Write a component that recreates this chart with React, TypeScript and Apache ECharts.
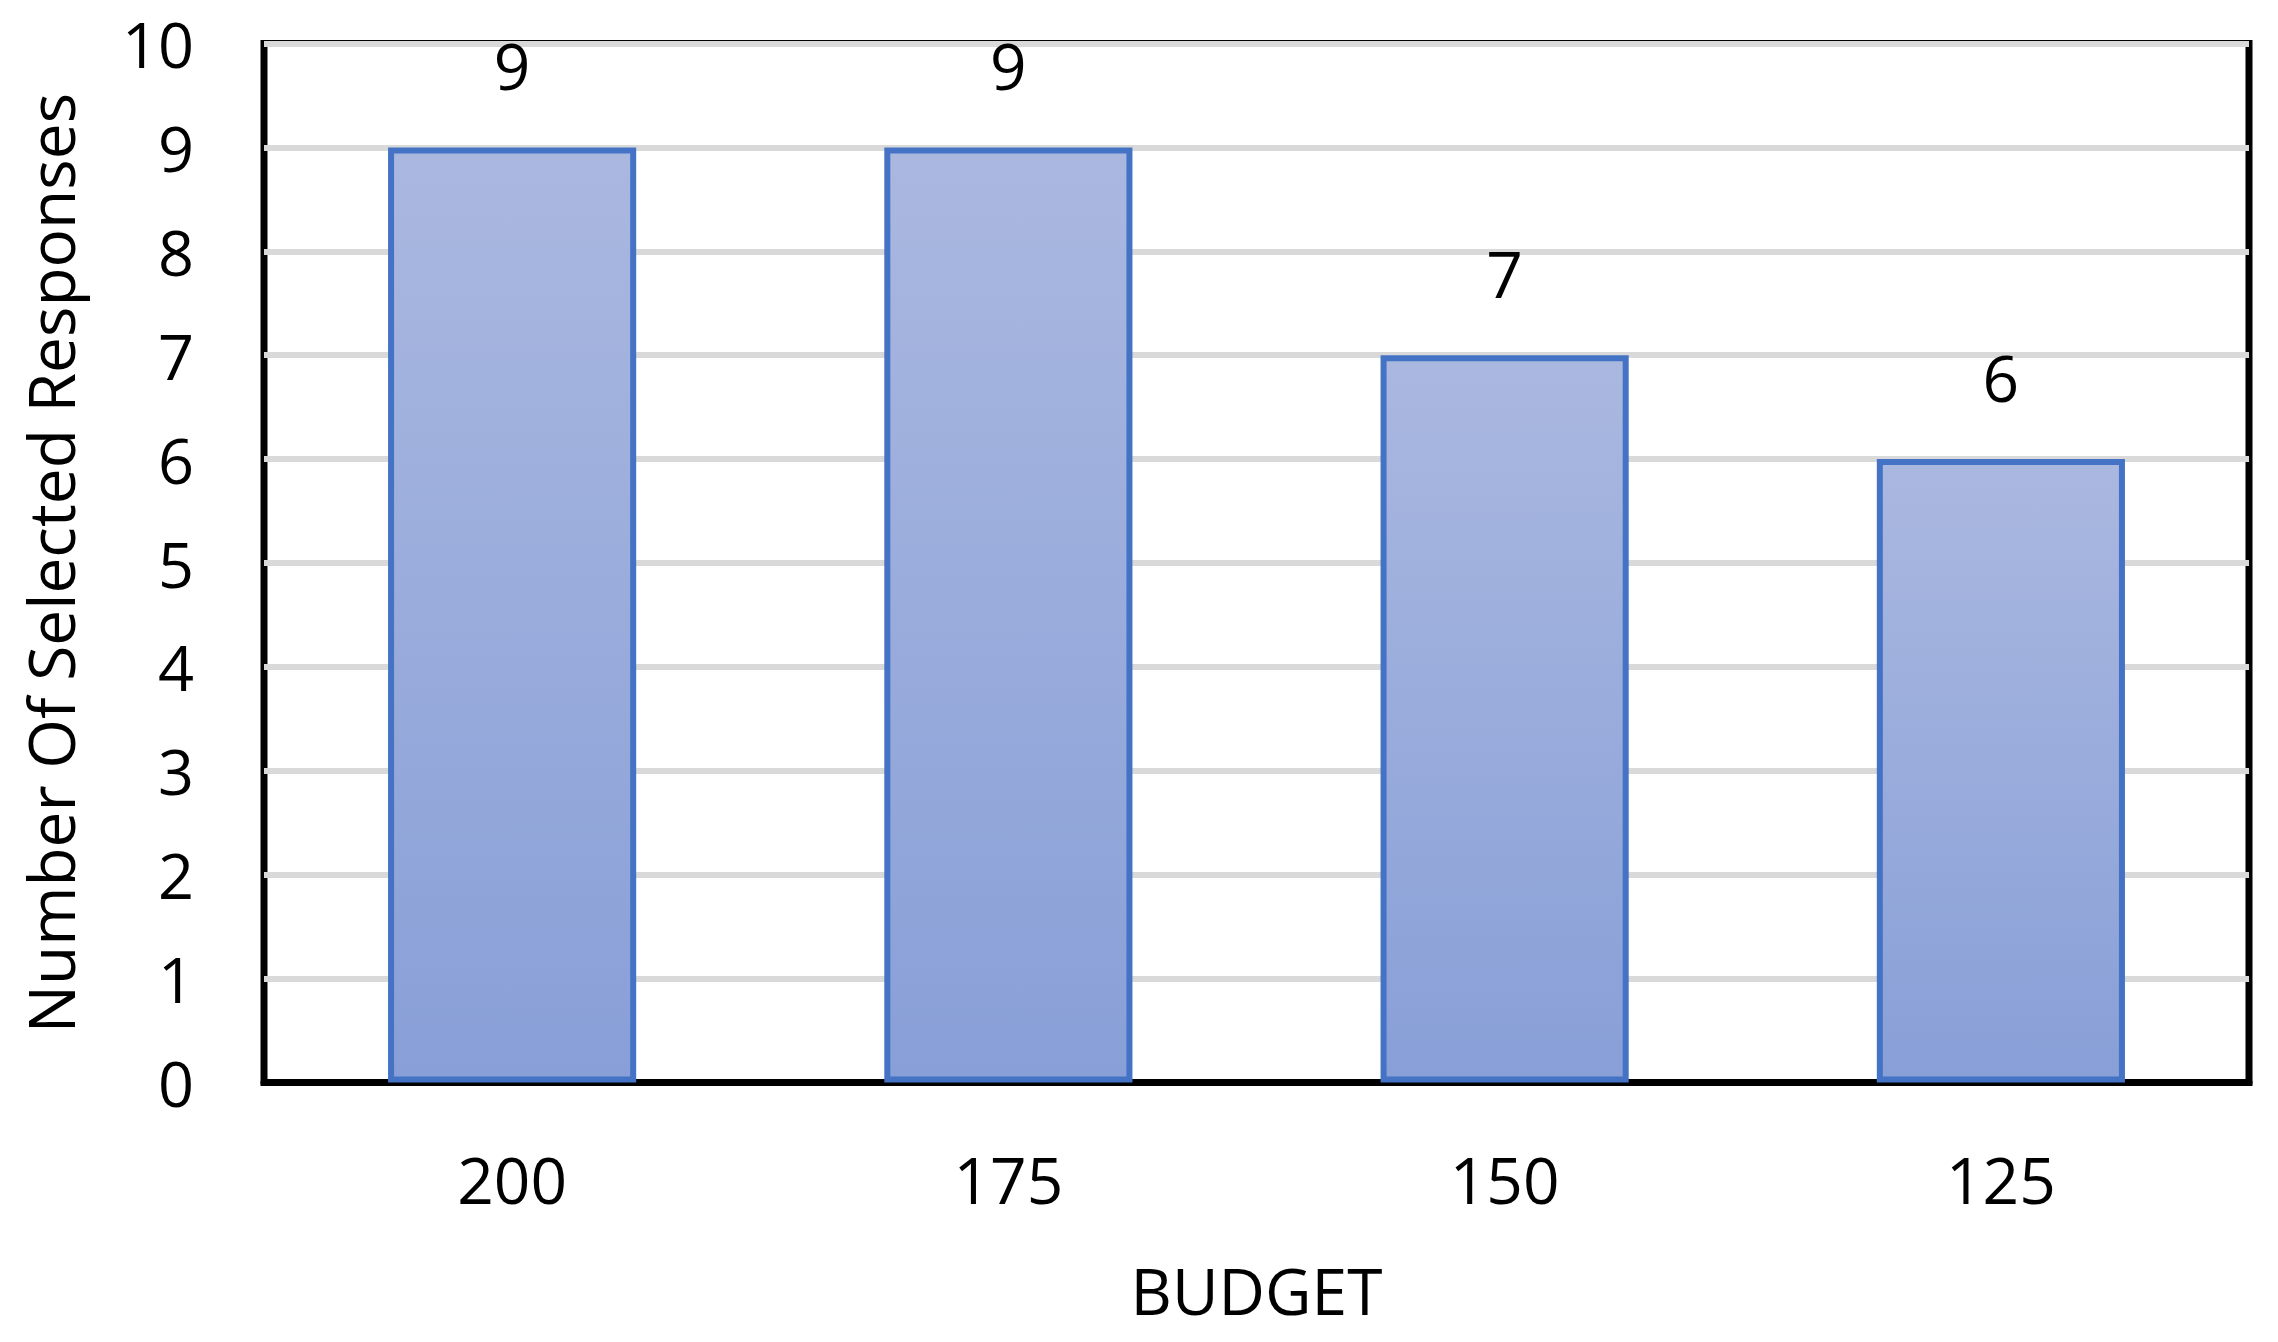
import React, { useEffect, useRef } from "react";
import * as echarts from "echarts";

const categories = ["200", "175", "150", "125"];
const responses = [9, 9, 7, 6];
const yTicks = [0, 1, 2, 3, 4, 5, 6, 7, 8, 9, 10];
const xAxisTitle = "BUDGET";
const yAxisTitle = "Number Of Selected Responses";

const FONT = "'Open Sans', 'Noto Sans', sans-serif";

export default function App() {
  const ref = useRef<HTMLDivElement>(null);
  useEffect(() => {
    if (!ref.current) return;
    const chart = echarts.init(ref.current, null, { renderer: "svg" });
    chart.setOption({
      animation: false,
      backgroundColor: "#ffffff",
      textStyle: { fontFamily: FONT },
      grid: {
        left: 264,
        right: 29,
        top: 43.5,
        bottom: 259.5,
        show: true,
        borderColor: "#000000",
        borderWidth: 7,
        backgroundColor: "transparent",
      },
      xAxis: {
        type: "category",
        data: categories,
        name: xAxisTitle,
        nameLocation: "middle",
        nameGap: 176,
        nameTextStyle: { fontSize: 64, color: "#000", fontFamily: FONT },
        axisLine: { show: true, lineStyle: { color: "#000", width: 7 } },
        axisTick: { show: false },
        axisLabel: { fontSize: 64, color: "#000", margin: 65, fontFamily: FONT },
      },
      yAxis: {
        type: "value",
        min: yTicks[0],
        max: yTicks[yTicks.length - 1],
        interval: 1,
        name: yAxisTitle,
        nameLocation: "middle",
        nameGap: 182,
        nameRotate: 90,
        nameTextStyle: { fontSize: 64, color: "#000", fontFamily: FONT },
        axisLine: { show: false },
        axisTick: { show: false },
        axisLabel: { fontSize: 63, color: "#000", margin: 70, fontFamily: FONT },
        splitLine: { show: true, lineStyle: { color: "#D9D9D9", width: 6 } },
      },
      series: [
        {
          type: "bar",
          data: responses,
          barWidth: "50%",
          itemStyle: {
            color: new echarts.graphic.LinearGradient(0, 0, 0, 1, [
              { offset: 0, color: "#AAB8E0" },
              { offset: 1, color: "#889FD7" },
            ]),
            borderColor: "#4472C4",
            borderWidth: 6,
          },
          label: {
            show: true,
            position: "top",
            distance: 50,
            fontSize: 64,
            color: "#000",
            fontFamily: FONT,
          },
        },
      ],
    });
    return () => chart.dispose();
  }, []);
  return (
    <div
      ref={ref}
      style={{ position: "fixed", left: 0, top: 0, width: 2278, height: 1342 }}
    />
  );
}
